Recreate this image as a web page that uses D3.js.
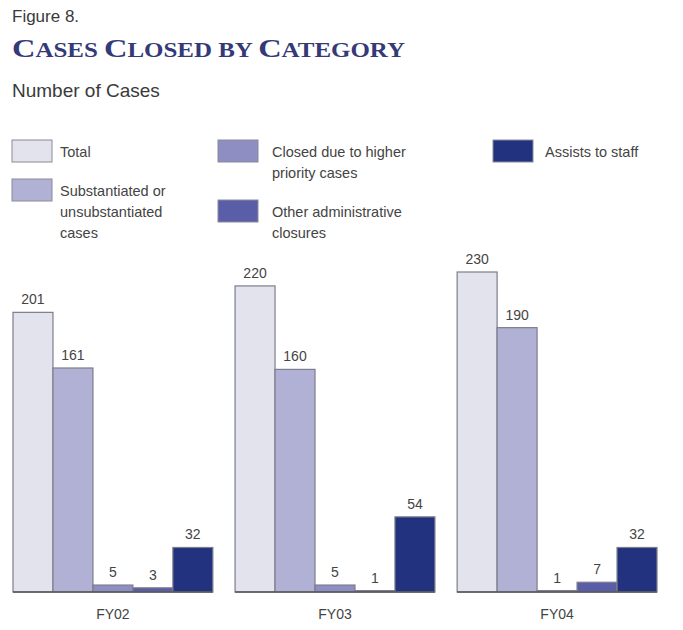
<!DOCTYPE html>
<html>
<head>
<meta charset="utf-8">
<script src="https://cdn.jsdelivr.net/npm/d3@7"></script>
<style>
  body { margin: 0; background: #fff; }
  svg text { font-family: "Liberation Sans", Arial, sans-serif; }
</style>
</head>
<body>
<div id="chart"></div>
<script>
const years = ['FY02', 'FY03', 'FY04'];
const categories = ['Total', 'Substantiated or unsubstantiated cases', 'Closed due to higher priority cases', 'Other administrative closures', 'Assists to staff'];
const total = [201, 220, 230];
const substantiated = [161, 160, 190];
const higherPriority = [5, 5, 1];
const otherAdmin = [3, 1, 7];
const assists = [32, 54, 32];

const series = [total, substantiated, higherPriority, otherAdmin, assists];
const colors = ['#e3e3ee', '#b1b1d5', '#8e8ec2', '#5a5ea8', '#23327e'];

const width = 683,
    height = 630;

const svg = d3.select('#chart').append('svg')
    .attr('width', width)
    .attr('height', height);

// header
svg.append('text')
    .attr('x', 12).attr('y', 22)
    .attr('font-size', 17).attr('fill', '#3a3a3a')
    .text('Figure 8.');

const title = svg.append('text')
    .attr('x', 12).attr('y', 57)
    .attr('fill', '#343a78')
    .attr('font-weight', 'bold')
    .style('font-family', '"Liberation Serif", "DejaVu Serif", serif')
    .attr('textLength', 393)
    .attr('lengthAdjust', 'spacingAndGlyphs');
[['C', 'ASES '], ['C', 'LOSED BY '], ['C', 'ATEGORY']].forEach(function(p) {
    title.append('tspan').attr('font-size', 26).text(p[0]);
    title.append('tspan').attr('font-size', 20).text(p[1]);
});

svg.append('text')
    .attr('x', 12).attr('y', 97)
    .attr('font-size', 19).attr('fill', '#3a3a3a')
    .text('Number of Cases');

// legend
const legendItems = [
    { x: 12, y: 140, lines: ['Total'] },
    { x: 12, y: 179, lines: ['Substantiated or', 'unsubstantiated', 'cases'] },
    { x: 218, y: 140, lines: ['Closed due to higher', 'priority cases'] },
    { x: 218, y: 200, lines: ['Other administrative', 'closures'] },
    { x: 493, y: 140, lines: ['Assists to staff'] }
];

const legend = svg.append('g').selectAll('g')
    .data(legendItems)
    .join('g')
    .attr('transform', function(d) { return 'translate(' + d.x + ',' + d.y + ')'; });

legend.append('rect')
    .attr('width', 40).attr('height', 22)
    .attr('fill', function(d, i) { return colors[i]; })
    .attr('stroke', '#8a8a9a').attr('stroke-width', 1);

legend.each(function(d) {
    const t = d3.select(this).append('text')
        .attr('font-size', 14.5).attr('fill', '#444');
    d.lines.forEach(function(line, j) {
        t.append('tspan')
            .attr('x', d.x === 12 ? 48 : (d.x === 218 ? 54 : 52))
            .attr('y', 17 + j * 21)
            .text(line);
    });
});

// scales
const baseline = 592;
const x0 = d3.scaleBand()
    .domain(years)
    .range([13, 657])
    .paddingInner(0.1);

const x1 = d3.scaleBand()
    .domain(d3.range(categories.length))
    .range([0, x0.bandwidth()]);

const y = d3.scaleLinear()
    .domain([0, 230])
    .range([baseline, 272]);

const groups = svg.append('g').selectAll('g')
    .data(years)
    .join('g')
    .attr('transform', function(d) { return 'translate(' + x0(d) + ',0)'; });

groups.selectAll('rect')
    .data(function(d, yi) { return series.map(function(s, ci) { return { c: ci, v: s[yi] }; }); })
    .join('rect')
    .attr('x', function(d) { return x1(d.c); })
    .attr('y', function(d) { return y(d.v); })
    .attr('width', x1.bandwidth())
    .attr('height', function(d) { return baseline - y(d.v); })
    .attr('fill', function(d) { return colors[d.c]; })
    .attr('stroke', '#7d7d8c')
    .attr('stroke-width', 1.2);

groups.selectAll('text.val')
    .data(function(d, yi) { return series.map(function(s, ci) { return { c: ci, v: s[yi] }; }); })
    .join('text')
    .attr('class', 'val')
    .attr('x', function(d) { return x1(d.c) + x1.bandwidth() / 2; })
    .attr('y', function(d) { return y(d.v) - 8; })
    .attr('text-anchor', 'middle')
    .attr('font-size', 14).attr('fill', '#444')
    .text(function(d) { return d.v; });

// baseline per group
groups.append('line')
    .attr('x1', 0).attr('x2', x0.bandwidth())
    .attr('y1', baseline).attr('y2', baseline)
    .attr('stroke', '#555').attr('stroke-width', 1.5);

const xAxis = svg.append('g')
    .attr('transform', 'translate(0,' + baseline + ')')
    .call(d3.axisBottom(x0).tickSize(0).tickPadding(17));
xAxis.select('.domain').remove();
xAxis.selectAll('text')
    .attr('font-size', 14).attr('fill', '#444')
    .style('font-family', '"Liberation Sans", Arial, sans-serif');
</script>
</body>
</html>
